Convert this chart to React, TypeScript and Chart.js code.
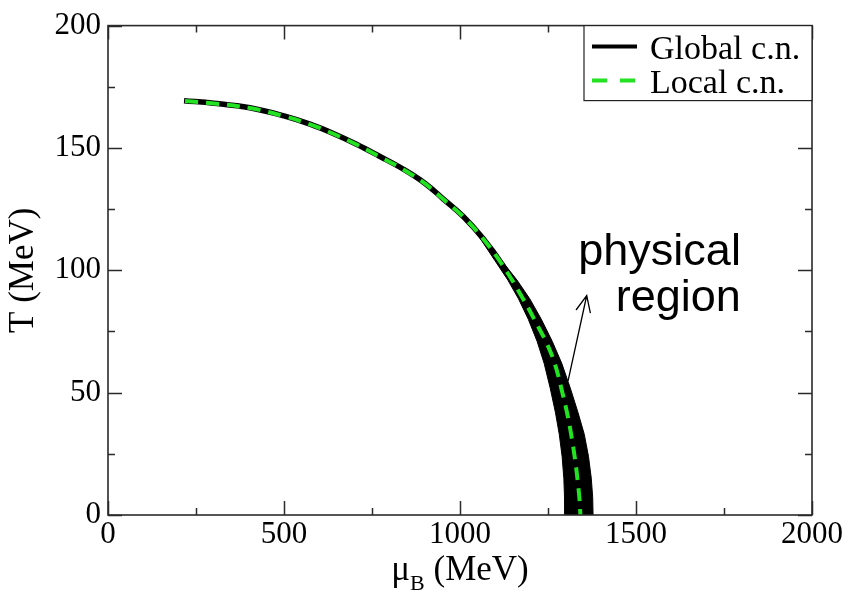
import React, { useEffect, useRef } from 'react';
import { Chart, registerables } from 'chart.js';
Chart.register(...registerables);

// ---- data ----
const xTickValues = [0, 500, 1000, 1500, 2000];
const yTickValues = [0, 50, 100, 150, 200];
const seriesLabels = ['Global c.n.', 'Local c.n.'];

// Global c.n. (central black curve)
const globalMu = [216, 300, 403, 500, 574, 640, 706, 770, 838, 900, 952, 1010, 1065, 1120, 1178, 1218, 1245, 1268, 1288, 1303, 1315, 1325, 1332, 1336, 1338];
const globalT = [169.3, 168.3, 166.4, 163.1, 159.7, 155.9, 151.5, 146.7, 141.4, 135.6, 129.2, 121.9, 113.1, 102.4, 88.5, 77.6, 70.1, 61.6, 50.6, 40.6, 31.1, 21.6, 13.1, 5.6, 0];

// Global c.n. band (spread of physical region)
const bandT = [116, 112, 104, 96, 88.4, 80, 71, 62, 52, 42, 33, 24, 15, 7, 0];
const bandLowMu = [1043, 1062, 1099, 1136, 1166, 1194, 1219, 1239, 1256, 1271, 1282, 1290, 1295, 1297, 1298];
const bandHighMu = [1051, 1074, 1118, 1162, 1198, 1231, 1262, 1289, 1313, 1335, 1353, 1365, 1373, 1377, 1378];

// Local c.n. (green dashed)
const localMu = [219, 300, 403, 500, 574, 640, 706, 770, 838, 900, 952, 1010, 1065, 1120, 1179, 1220, 1247, 1270, 1290, 1306, 1318, 1328, 1335, 1340, 1342];
const localT = [169.2, 168.2, 166.3, 163.0, 159.6, 155.8, 151.4, 146.6, 141.3, 135.5, 129.1, 121.8, 113.0, 102.3, 88.4, 77.5, 70.0, 61.5, 50.5, 40.5, 31.0, 21.5, 13.0, 5.5, 0];

// annotation
const annotationLines = ['physical', 'region'];
const annotationMu = 1798;
const annotationT = [102.2, 83.2];
const arrowTailMu = 1307, arrowTailT = 54.8;
const arrowHeadMu = 1360, arrowHeadT = 89.7;

const SERIF = "'Liberation Serif', 'Times New Roman', serif";
const SANS = "'Liberation Sans', Arial, sans-serif";
const GREEN = 'rgb(34,226,34)';
const AXIS = '#2a2a2a';

const decorPlugin = {
  id: 'decor',
  afterDraw(chart: any) {
    const ctx = chart.ctx;
    const { left, right, top, bottom } = chart.chartArea;
    const xs = chart.scales.x;
    const ys = chart.scales.y;
    ctx.save();

    // ticks inward on all sides
    ctx.strokeStyle = AXIS;
    ctx.lineWidth = 1.5;
    const major = 14, minor = 7;
    const xt = xs.ticks.map((t: any) => t.value);
    const yt = ys.ticks.map((t: any) => t.value);
    ctx.beginPath();
    for (let i = 0; i < xt.length; i++) {
      const px = Math.round(xs.getPixelForValue(xt[i])) + 0.5;
      ctx.moveTo(px, bottom); ctx.lineTo(px, bottom - major);
      ctx.moveTo(px, top); ctx.lineTo(px, top + major);
      if (i < xt.length - 1) {
        const pm = Math.round(xs.getPixelForValue((xt[i] + xt[i + 1]) / 2)) + 0.5;
        ctx.moveTo(pm, bottom); ctx.lineTo(pm, bottom - minor);
        ctx.moveTo(pm, top); ctx.lineTo(pm, top + minor);
      }
    }
    for (let i = 0; i < yt.length; i++) {
      const py = Math.round(ys.getPixelForValue(yt[i])) + 0.5;
      ctx.moveTo(left, py); ctx.lineTo(left + major, py);
      ctx.moveTo(right, py); ctx.lineTo(right - major, py);
      if (i < yt.length - 1) {
        const pm = Math.round(ys.getPixelForValue((yt[i] + yt[i + 1]) / 2)) + 0.5;
        ctx.moveTo(left, pm); ctx.lineTo(left + minor, pm);
        ctx.moveTo(right, pm); ctx.lineTo(right - minor, pm);
      }
    }
    ctx.stroke();

    // frame
    ctx.lineWidth = 1.6;
    ctx.strokeRect(left, top, right - left, bottom - top);

    // legend box
    const lx = right - 228, ly = top, lw = 228, lh = 75;
    ctx.fillStyle = '#fff';
    ctx.fillRect(lx, ly, lw, lh);
    ctx.lineWidth = 1.2;
    ctx.strokeStyle = '#222';
    ctx.strokeRect(lx, ly, lw, lh);
    const ds = chart.data.datasets;
    const rows = [ds.find((d: any) => d.label === seriesLabels[0]), ds.find((d: any) => d.label === seriesLabels[1])];
    ctx.font = `34px ${SERIF}`;
    ctx.textBaseline = 'alphabetic';
    ctx.textAlign = 'left';
    rows.forEach((d: any, i: number) => {
      const cy = ly + 21 + i * 34;
      ctx.beginPath();
      ctx.strokeStyle = d.borderColor;
      ctx.lineWidth = 4;
      ctx.setLineDash(d.borderDash ? [15, 13] : []);
      ctx.moveTo(lx + 8, cy);
      ctx.lineTo(lx + 53, cy);
      ctx.stroke();
      ctx.setLineDash([]);
      ctx.fillStyle = '#000';
      ctx.fillText(d.label, lx + 66, cy + 12);
    });

    // y title
    ctx.save();
    ctx.translate(24, (top + bottom) / 2);
    ctx.rotate(-Math.PI / 2);
    ctx.font = `35px ${SERIF}`;
    ctx.textAlign = 'center';
    ctx.textBaseline = 'middle';
    ctx.fillStyle = '#000';
    ctx.fillText('T (MeV)', 0, 0);
    ctx.restore();

    // x title with subscript
    ctx.fillStyle = '#000';
    ctx.textAlign = 'left';
    ctx.textBaseline = 'alphabetic';
    const bigFont = `35px ${SERIF}`, subFont = `22px ${SERIF}`;
    ctx.font = bigFont;
    const wMu = ctx.measureText('\u03bc').width;
    const wRest = ctx.measureText(' (MeV)').width;
    ctx.font = subFont;
    const wB = ctx.measureText('B').width;
    const total = wMu + wB + wRest;
    const x0 = (left + right) / 2 - total / 2;
    const base = 580;
    ctx.font = bigFont;
    ctx.fillText('\u03bc', x0, base);
    ctx.font = subFont;
    ctx.fillText('B', x0 + wMu, base + 10);
    ctx.font = bigFont;
    ctx.fillText(' (MeV)', x0 + wMu + wB, base);

    // annotation
    ctx.font = `45px ${SANS}`;
    ctx.textAlign = 'right';
    ctx.fillStyle = '#000';
    annotationLines.forEach((s, i) => {
      ctx.fillText(s, xs.getPixelForValue(annotationMu), ys.getPixelForValue(annotationT[i]));
    });
    const tx = xs.getPixelForValue(arrowTailMu), ty = ys.getPixelForValue(arrowTailT);
    const hx = xs.getPixelForValue(arrowHeadMu), hy = ys.getPixelForValue(arrowHeadT);
    ctx.strokeStyle = '#000';
    ctx.lineWidth = 1.3;
    ctx.beginPath();
    ctx.moveTo(tx, ty); ctx.lineTo(hx, hy);
    const ang = Math.atan2(hy - ty, hx - tx);
    const al = 18, spread = 0.42;
    ctx.moveTo(hx - al * Math.cos(ang - spread), hy - al * Math.sin(ang - spread));
    ctx.lineTo(hx, hy);
    ctx.lineTo(hx - al * Math.cos(ang + spread), hy - al * Math.sin(ang + spread));
    ctx.stroke();

    ctx.restore();
  },
};

export default function App() {
  const ref = useRef<HTMLCanvasElement>(null);
  useEffect(() => {
    if (!ref.current) return;
    const bandPoly = [
      ...bandLowMu.map((m, i) => ({ x: m, y: bandT[i] })),
      ...bandHighMu.map((m, i) => ({ x: m, y: bandT[i] })).reverse(),
    ];
    const chart = new Chart(ref.current, {
      type: 'scatter',
      data: {
        datasets: [
          {
            label: seriesLabels[1],
            data: localMu.map((m, i) => ({ x: m, y: localT[i] })),
            showLine: true,
            borderColor: GREEN,
            borderWidth: 4,
            borderDash: [13, 8],
            pointRadius: 0,
            tension: 0.4,
            fill: false,
            order: 0,
          } as any,
          {
            label: seriesLabels[0],
            data: globalMu.map((m, i) => ({ x: m, y: globalT[i] })),
            showLine: true,
            borderColor: '#000',
            borderWidth: 5.5,
            borderJoinStyle: 'round',
            pointRadius: 0,
            tension: 0.4,
            fill: false,
            order: 1,
          },
          {
            label: 'band',
            data: bandPoly,
            showLine: true,
            borderColor: '#000',
            backgroundColor: '#000',
            borderWidth: 1,
            borderJoinStyle: 'round',
            pointRadius: 0,
            tension: 0,
            fill: 'shape',
            order: 2,
          },
        ],
      },
      options: {
        animation: false,
        responsive: false,
        devicePixelRatio: 1,
        layout: { padding: { left: 0, top: 22, right: 39, bottom: 0 } },
        plugins: { legend: { display: false }, tooltip: { enabled: false } },
        scales: {
          x: {
            type: 'linear',
            min: 0,
            max: 2000,
            afterBuildTicks: (s: any) => { s.ticks = xTickValues.map((v) => ({ value: v })); },
            afterFit: (s: any) => { s.height = 77; },
            grid: { display: false, drawTicks: false },
            border: { display: false },
            ticks: { font: { family: SERIF, size: 31 }, color: '#000', padding: 1, maxRotation: 0, autoSkip: false, callback: (v: any) => String(v) },
          },
          y: {
            type: 'linear',
            min: 0,
            max: 200,
            afterBuildTicks: (s: any) => { s.ticks = yTickValues.map((v) => ({ value: v })); },
            afterFit: (s: any) => { s.width = 108; },
            grid: { display: false, drawTicks: false },
            border: { display: false },
            ticks: { font: { family: SERIF, size: 31 }, color: '#000', padding: 7, autoSkip: false, callback: (v: any) => String(v) },
          },
        },
      },
      plugins: [decorPlugin],
    });
    return () => chart.destroy();
  }, []);
  return (
    <div style={{ position: 'absolute', left: 0, top: 0, width: 851, height: 592, background: '#fff' }}>
      <canvas ref={ref} width={851} height={592} style={{ display: 'block' }} />
    </div>
  );
}
